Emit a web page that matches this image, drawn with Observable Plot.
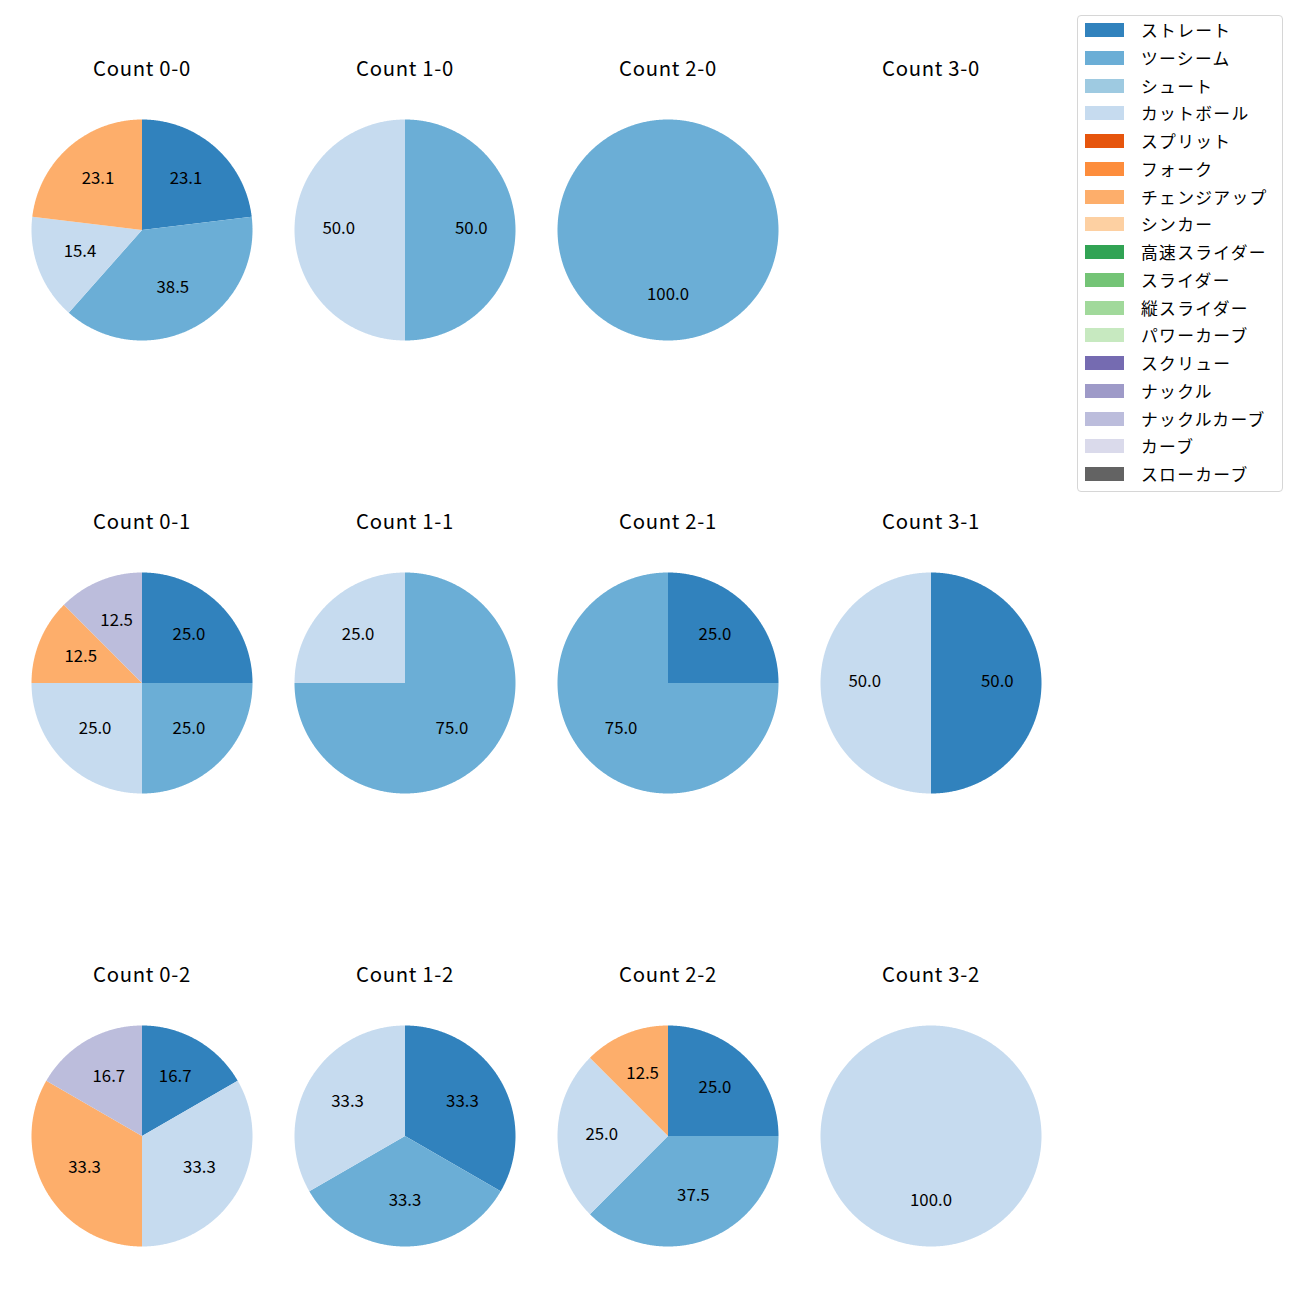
<!DOCTYPE html>
<html>
<head>
<meta charset="utf-8">
<script src="https://cdn.jsdelivr.net/npm/d3@7"></script>
<script src="https://cdn.jsdelivr.net/npm/@observablehq/plot@0.6"></script>
<style>
  body { margin: 0; background: #fff; font-family: "Noto Sans CJK JP", "Noto Sans", sans-serif; }
  #root { position: relative; width: 1300px; height: 1300px; }
  .cell { position: absolute; }
  .cell svg { display: block; }
  g[font-size="20.3"] { letter-spacing: 0.7px; }
  #legend { position: absolute; left: 1077px; top: 15px; width: 204px; height: 475px;
            border: 1px solid #d6d6d6; border-radius: 4px; background: rgba(255,255,255,0.8); }
  .sw { position: absolute; left: 7px; width: 39px; height: 14px; }
  .lab { position: absolute; left: 63px; font-size: 16.8px; letter-spacing: 1.3px; white-space: nowrap; color: #000; line-height: 20px; }
</style>
</head>
<body>
<div id="root"></div>
<script>
// ---- data ----
const pitchTypes = ["ストレート","ツーシーム","シュート","カットボール","スプリット","フォーク","チェンジアップ","シンカー","高速スライダー","スライダー","縦スライダー","パワーカーブ","スクリュー","ナックル","ナックルカーブ","カーブ","スローカーブ"];
const pitchColors = ["#3182bd","#6baed6","#9ecae1","#c6dbef","#e6550d","#fd8d3c","#fdae6b","#fdd0a2","#31a354","#74c476","#a1d99b","#c7e9c0","#756bb1","#9e9ac8","#bcbddc","#dadaeb","#636363"];

const countLabels = ["0-0","1-0","2-0","3-0","0-1","1-1","2-1","3-1","0-2","1-2","2-2","3-2"];

const c00 = [["ストレート",3],["ツーシーム",5],["カットボール",2],["チェンジアップ",3]];
const c10 = [["ツーシーム",1],["カットボール",1]];
const c20 = [["ツーシーム",1]];
const c30 = [];
const c01 = [["ストレート",2],["ツーシーム",2],["カットボール",2],["チェンジアップ",1],["ナックルカーブ",1]];
const c11 = [["ツーシーム",3],["カットボール",1]];
const c21 = [["ストレート",1],["ツーシーム",3]];
const c31 = [["ストレート",1],["カットボール",1]];
const c02 = [["ストレート",1],["カットボール",2],["チェンジアップ",2],["ナックルカーブ",1]];
const c12 = [["ストレート",1],["ツーシーム",1],["カットボール",1]];
const c22 = [["ストレート",2],["ツーシーム",3],["カットボール",2],["チェンジアップ",1]];
const c32 = [["カットボール",1]];
const countData = [c00,c10,c20,c30,c01,c11,c21,c31,c02,c12,c22,c32];

// ---- layout ----
const colCenters = [141, 404, 667, 930];
const rowCenters = [229, 682, 1135];
const R = 110.5;
const marginTop = 70, marginSide = 10;

function wedges(data) {
  const total = d3.sum(data, d => d[1]);
  const rows = [];
  let acc = 0;
  data.forEach(([type, v], i) => {
    const a0 = acc / total * 2 * Math.PI;
    const a1 = (acc + v) / total * 2 * Math.PI;
    acc += v;
    const n = Math.max(2, Math.ceil((a1 - a0) / (Math.PI / 360)));
    if (v < total) rows.push({id: i, type, x: 0, y: 0});
    for (let k = 0; k <= n; k++) {
      const a = a0 + (a1 - a0) * k / n;
      rows.push({id: i, type, x: Math.sin(a), y: Math.cos(a)});
    }
    if (v < total) rows.push({id: i, type, x: 0, y: 0});
  });
  return rows;
}
function labels(data) {
  const total = d3.sum(data, d => d[1]);
  let acc = 0;
  return data.map(([type, v]) => {
    const am = (acc + v / 2) / total * 2 * Math.PI;
    acc += v;
    return {type, x: 0.6 * Math.sin(am), y: 0.6 * Math.cos(am), text: (v / total * 100).toFixed(1)};
  });
}

const root = document.getElementById("root");
countLabels.forEach((lab, i) => {
  const data = countData[i];
  const col = i % 4, row = Math.floor(i / 4);
  const plot = Plot.plot({
    width: 2 * R + 2 * marginSide,
    height: 2 * R + marginTop,
    marginTop, marginBottom: 0, marginLeft: marginSide, marginRight: marginSide,
    x: {domain: [-1, 1], axis: null},
    y: {domain: [-1, 1], axis: null},
    color: {domain: pitchTypes, range: pitchColors},
    style: {fontFamily: '"Noto Sans CJK JP", "Noto Sans", sans-serif', background: "transparent", overflow: "visible"},
    marks: [
      Plot.line(wedges(data), {x: "x", y: "y", z: "id", fill: "type", stroke: "none", curve: "linear"}),
      Plot.text(labels(data), {x: "x", y: "y", text: "text", fontSize: 16.8, dy: -1.5, fill: "#000"}),
      Plot.text([`Count ${lab}`], {frameAnchor: "top", lineAnchor: "middle", dy: -50, fontSize: 20.3, fill: "#000"})
    ]
  });
  const div = document.createElement("div");
  div.className = "cell";
  div.style.left = (colCenters[col] - R - marginSide) + "px";
  div.style.top = (rowCenters[row] - R - marginTop) + "px";
  div.appendChild(plot);
  root.appendChild(div);
});

// ---- legend ----
const legend = document.createElement("div");
legend.id = "legend";
pitchTypes.forEach((t, i) => {
  const cy = 14 + i * 27.75;
  const sw = document.createElement("div");
  sw.className = "sw";
  sw.style.top = (cy - 7) + "px";
  sw.style.background = pitchColors[i];
  const tx = document.createElement("div");
  tx.className = "lab";
  tx.style.top = (cy - 10) + "px";
  tx.textContent = t;
  legend.appendChild(sw);
  legend.appendChild(tx);
});
root.appendChild(legend);
</script>
</body>
</html>
